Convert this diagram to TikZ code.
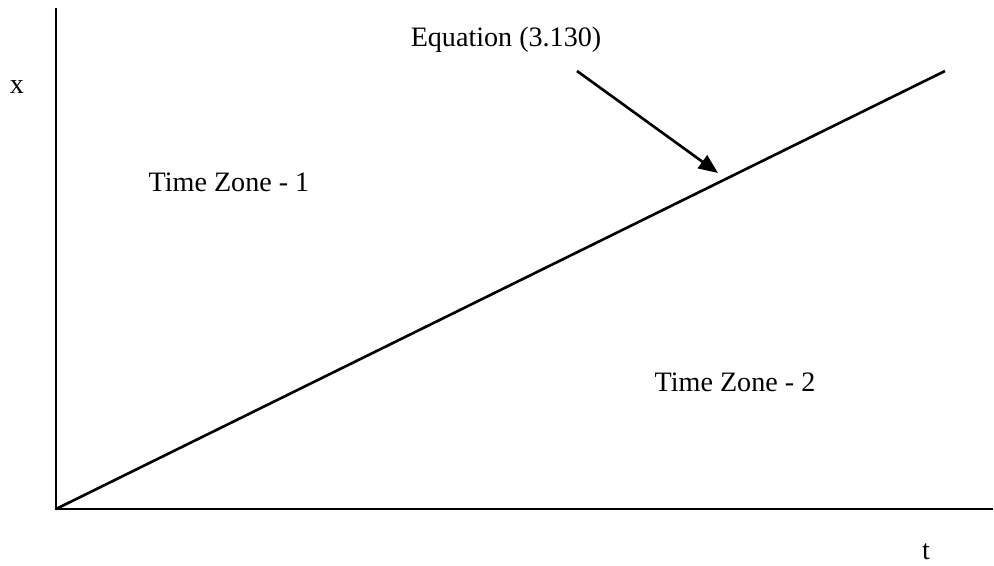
\documentclass[tikz,border=0pt]{standalone}
\usepackage{fontspec}
\setmainfont{Liberation Serif}
\usepackage{tikz}
\usetikzlibrary{arrows.meta}

\begin{document}
\begin{tikzpicture}[x=0.02cm,y=0.02cm,
    lbl/.style={font=\fontsize{16}{19}\selectfont, inner sep=0pt},
    axis/.style={line width=1.2pt},
    pointer/.style={line width=1.5pt, -{Triangle[length=11pt,width=9pt]}}]
  \useasboundingbox (-56,-56) rectangle (938,509);
  % axes
  \coordinate (o) at (0,0);
  \coordinate (ytop) at (0,501);
  \coordinate (xend) at (937,0);
  \draw[axis] (ytop) -- (o) -- (xend);
  \node[lbl] (xlab) at (-39,422) {x};
  \node[lbl] (tlab) at (870,-43) {t};
  % boundary between the zones
  \coordinate (lend) at (889,438);
  \draw[line width=1.5pt] (o) -- (lend);
  \node[lbl] (zone1) at (173,327) {Time Zone - 1};
  \node[lbl] (zone2) at (679,127) {Time Zone - 2};
  % label for the line
  \node[lbl] (eq) at (450,469) {Equation (3.130)};
  \coordinate (astart) at (521,438);
  \coordinate (aend) at (662,336);
  \draw[pointer] (astart) -- (aend);
\end{tikzpicture}
\end{document}
